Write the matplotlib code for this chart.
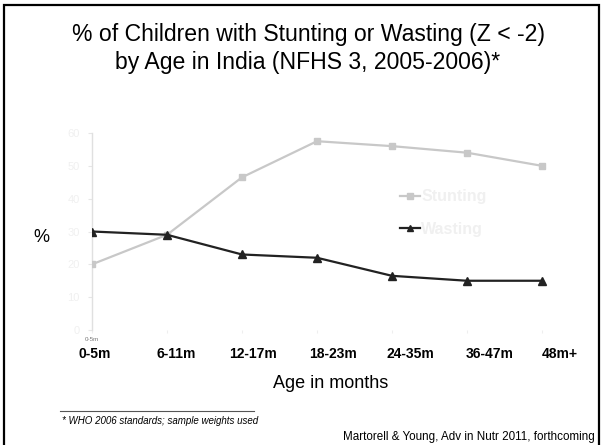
import matplotlib
matplotlib.use("Agg")
import matplotlib.pyplot as plt
from matplotlib.patches import Rectangle
from matplotlib.lines import Line2D

plt.rcParams['font.family'] = ['Liberation Sans', 'DejaVu Sans']

# Age groups and prevalence (%) by age
age_groups = ["0-5m", "6-11m", "12-17m", "18-23m", "24-35m", "36-47m", "48m+"]
stunting = [20, 29, 46.5, 57.5, 56, 54, 50]
wasting = [30, 29, 23, 22, 16.5, 15, 15]
y_ticks = [0, 10, 20, 30, 40, 50, 60]

W, H = 602, 445
fig = plt.figure(figsize=(W / 100, H / 100), dpi=100)
fig.patch.set_facecolor("white")

# Slide frame
fig.patches.append(Rectangle((4 / W, -0.01), 595 / W, 1 - 5 / H + 0.01,
                             transform=fig.transFigure, fill=False,
                             edgecolor="black", linewidth=1.6))

# Plot area
ax_left, ax_bottom = 92 / W, (H - 330) / H
ax_w, ax_h = 6.3 * 75, 197
ax = fig.add_axes([ax_left, ax_bottom, ax_w / W, ax_h / H])
x = list(range(len(age_groups)))

ax.plot(x, stunting, color="#c8c8c8", linewidth=1.6, marker="s",
        markersize=5, markeredgecolor="#c8c8c8", zorder=3)
ax.plot(x, wasting, color="#222222", linewidth=1.6, marker="^",
        markersize=6, markeredgecolor="#222222", zorder=3)

ax.set_xlim(0, 6.3)
ax.set_ylim(0, 60)
ax.set_yticks(y_ticks)
ax.set_yticklabels([str(v) for v in y_ticks], color="#f0f0f0", fontsize=8)
ax.set_xticks(x)
ax.set_xticklabels(age_groups, fontsize=4.5)
for i, lbl in enumerate(ax.get_xticklabels()):
    lbl.set_color("#777777" if i == 0 else "white")
ax.tick_params(axis="y", length=3, color="#e6e6e6", pad=6)
ax.tick_params(axis="x", length=2, color="#eeeeee", pad=3)
for s in ["top", "right", "bottom"]:
    ax.spines[s].set_visible(False)
ax.spines["left"].set_color("#e0e0e0")
ax.spines["left"].set_linewidth(1.0)
ax.set_facecolor("none")

# Legend with faint text
handles = [
    Line2D([], [], color="#c8c8c8", marker="s", markersize=4, linewidth=1.6),
    Line2D([], [], color="#222222", marker="^", markersize=5, linewidth=1.6),
]
leg = ax.legend(handles, ["Stunting", "Wasting"], loc="upper left",
                bbox_to_anchor=((386 - 92) / ax_w, (330 - 175) / ax_h),
                frameon=False, fontsize=11.5, handlelength=1.2,
                handletextpad=0.1, labelspacing=1.1)
for t in leg.get_texts():
    t.set_color("#f0f0f0")
    t.set_fontweight("bold")

# Bold category labels under the axis
label_px = [95, 176, 253, 333, 410, 490, 560]
for px, name in zip(label_px, age_groups):
    fig.text(px / W, 1 - 354 / H, name, ha="center", va="center",
             fontsize=10, fontweight="bold")

# Titles and annotations
fig.text(308 / W, 1 - 34 / H, "% of Children with Stunting or Wasting (Z < -2)",
         ha="center", va="center", fontsize=16.6)
fig.text(308 / W, 1 - 63 / H, "by Age in India (NFHS 3, 2005-2006)*",
         ha="center", va="center", fontsize=16.6)
fig.text(41 / W, 1 - 238 / H, "%", ha="center", va="center", fontsize=13)
fig.text(331 / W, 1 - 383 / H, "Age in months", ha="center", va="center",
         fontsize=13)
fig.lines.append(Line2D([60 / W, 254 / W], [1 - 411 / H, 1 - 411 / H],
                        transform=fig.transFigure, color="#555555",
                        linewidth=0.8))
fig.text(62 / W, 1 - 421 / H, "* WHO 2006 standards; sample weights used",
         ha="left", va="center", fontsize=7, style="italic")
fig.text(595 / W, 1 - 437 / H,
         "Martorell & Young, Adv in Nutr 2011, forthcoming",
         ha="right", va="center", fontsize=8.4)

fig.savefig("out.png", dpi=100)
